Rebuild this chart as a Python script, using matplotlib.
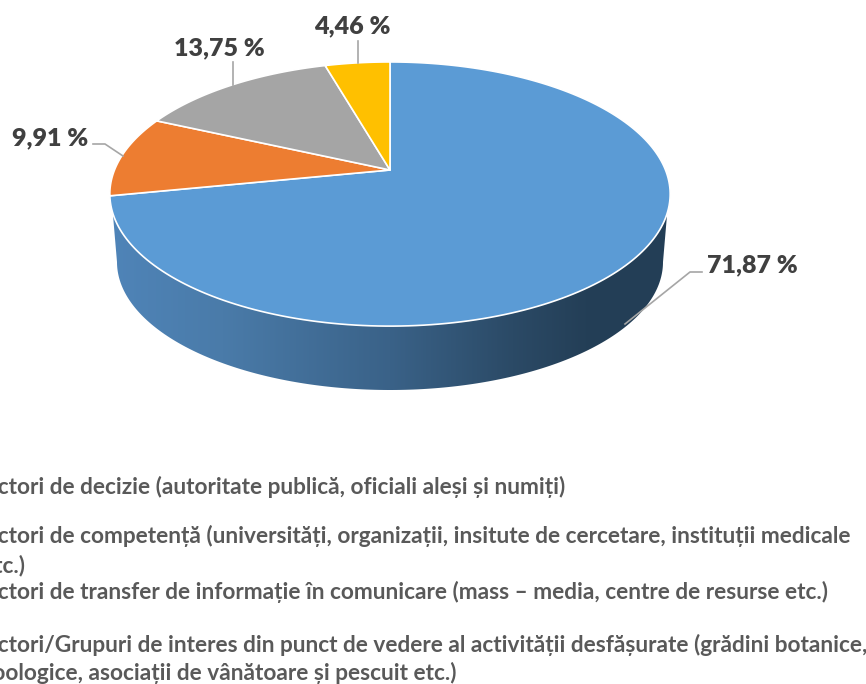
import matplotlib
matplotlib.use('Agg')
import matplotlib.pyplot as plt
from matplotlib.colors import LinearSegmentedColormap
from matplotlib.patches import Polygon
import numpy as np

values = [71.87, 9.91, 13.75, 4.46]
colors = ['#5B9BD5', '#ED7D31', '#A5A5A5', '#FFC000']
legend_lines = [
    'Actori de decizie (autoritate publică, oficiali aleși și numiți)',
    'Actori de competență (universități, organizații, insitute de cercetare, instituții medicale',
    'etc.)',
    'Actori de transfer de informație în comunicare (mass – media, centre de resurse etc.)',
    'Actori/Grupuri de interes din punct de vedere al activității desfășurate (grădini botanice,',
    'zoologice, asociații de vânătoare și pescuit etc.)',
]
legend_y = [487, 536, 566, 592, 645, 673]

# label position (centre) and leader line for each slice
label_pos = [(752, 265), (50, 138), (219, 48), (352, 26)]
leaders = [
    [(625, 324), (690, 272), (702, 272)],
    [(123, 156), (105, 144), (93, 144)],
    [(233, 85), (233, 62)],
    [(358, 63), (358, 41)],
]

# pie centre and perspective of the top face
cx, cy = 390, 170
a, b, k = 275.5, 127.7, 0.182


def project(angle):
    # angle clockwise from the top, in radians
    u, v = np.sin(angle), np.cos(angle)
    w = 1 + k * v
    return cx + a * u / w, cy - b * v / w


fig = plt.figure(figsize=(8.66, 6.84), dpi=100, facecolor='white')
ax = fig.add_axes([0, 0, 1, 1])

# side wall, gradient left to right clipped to the front band
t = np.linspace(np.pi / 2, 3 * np.pi / 2, 300)
top_x, top_y = project(t)
keep = top_y >= 213
top_rim = np.column_stack([top_x[keep], top_y[keep]])
s = np.linspace(0, np.pi, 200)
bottom_rim = np.column_stack([390 + 273 * np.cos(s), 262 + 128 * np.sin(s)])
wall = Polygon(np.vstack([bottom_rim, top_rim[::-1]]), closed=True, fc='none', ec='none')
ax.add_patch(wall)
stops = [(0.0, '#4F84B8'), (0.2, '#4A7BA9'), (0.5, '#3A6288'), (0.72, '#2B4A66'), (0.85, '#243F57'), (1.0, '#233E56')]
wall_cmap = LinearSegmentedColormap.from_list('wall', stops)
grad = ax.imshow(np.linspace(0, 1, 256).reshape(1, -1), cmap=wall_cmap, extent=(110, 670, 395, 195),
                 aspect='auto', zorder=1)
grad.set_clip_path(wall)

ax.set_xlim(0, 866)
ax.set_ylim(684, 0)
ax.axis('off')

# top face
start = 0.0
for val, col in zip(values, colors):
    end = start + val / sum(values) * 2 * np.pi
    ang = np.linspace(start, end, 200)
    xs, ys = project(ang)
    pts = np.vstack([[cx, cy], np.column_stack([xs, ys])])
    ax.add_patch(Polygon(pts, closed=True, fc=col, ec='white', lw=1.2, joinstyle='round', zorder=2))
    start = end

# data labels
for val, pos, line in zip(values, label_pos, leaders):
    txt = f'{val:.2f}'.replace('.', ',') + ' %'
    ax.text(pos[0], pos[1], txt, family='Lato', weight='heavy', fontsize=18, color='#404040',
            ha='center', va='center', zorder=4)
    lx, ly = zip(*line)
    ax.plot(lx, ly, color='#A6A6A6', lw=1.2, zorder=3)

# legend text, runs off the left edge like the source
for line, y in zip(legend_lines, legend_y):
    ax.text(-18, y, line, family='Lato', weight='bold', fontsize=16.3, color='#595959',
            ha='left', va='center', clip_on=False)

fig.savefig('out.png', dpi=100)
